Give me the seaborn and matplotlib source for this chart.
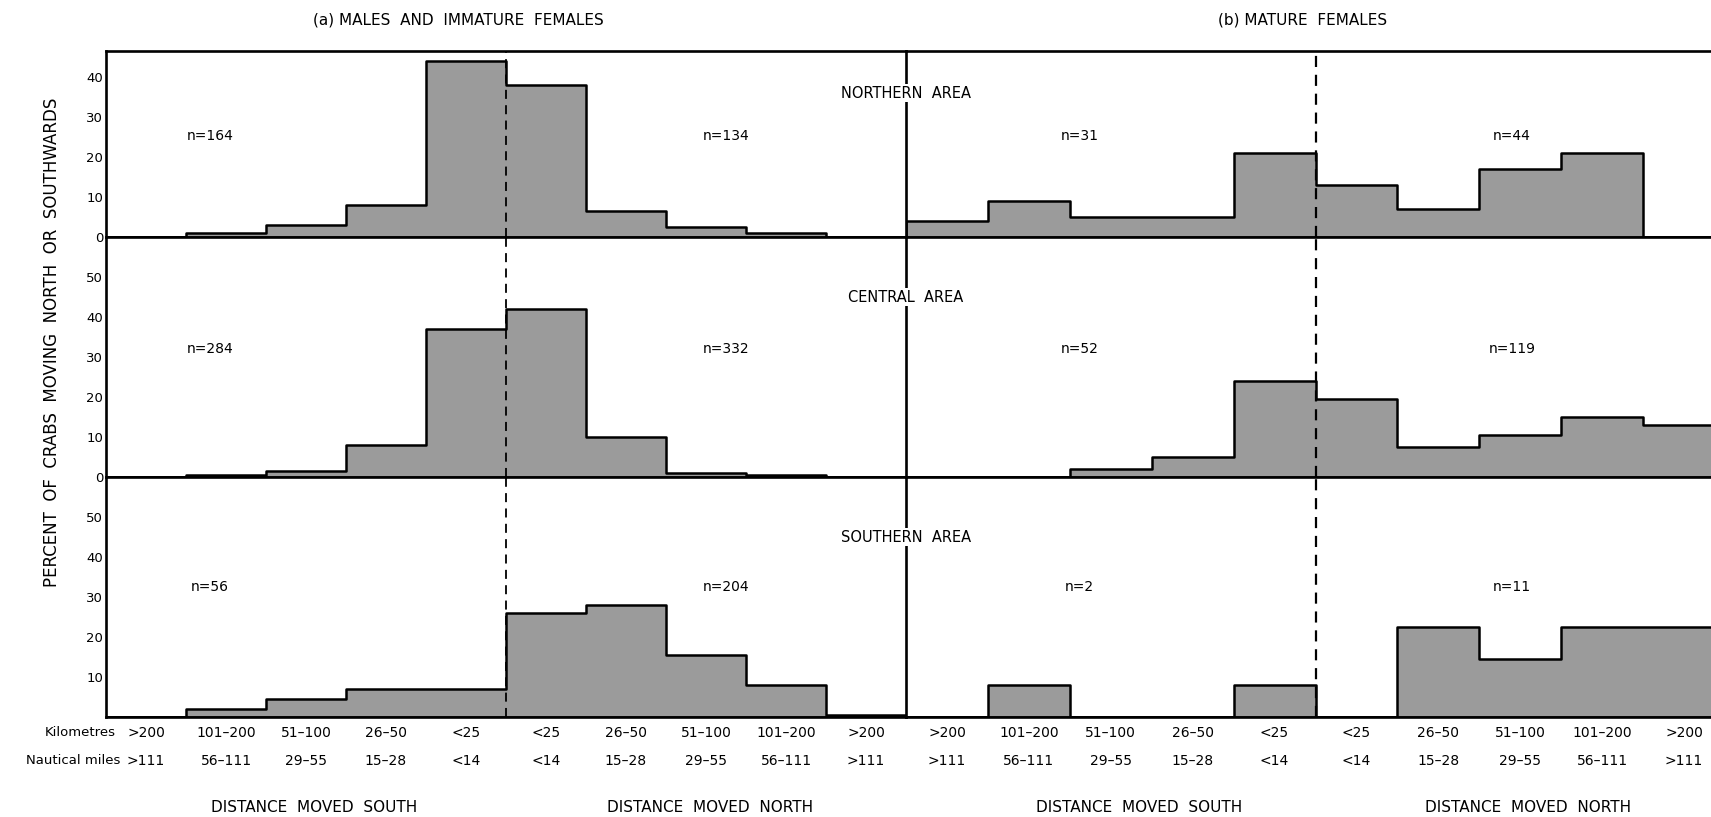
import numpy as np
import pandas as pd
import matplotlib
matplotlib.use("Agg")
import matplotlib.pyplot as plt
import matplotlib.transforms as mtransforms
import seaborn as sns

# ---------------- data ----------------
km_labels = [">200", "101–200", "51–100", "26–50", "<25",
             "<25", "26–50", "51–100", "101–200", ">200"]
nm_labels = [">111", "56–111", "29–55", "15–28", "<14",
             "<14", "15–28", "29–55", "56–111", ">111"]
area_names = ["NORTHERN  AREA", "CENTRAL  AREA", "SOUTHERN  AREA"]

# (a) males and immature females, percent per distance class (south ... north)
males_northern = [0, 1, 3, 8, 44, 38, 6.5, 2.5, 1, 0]
males_central = [0, 0.5, 1.5, 8, 37, 42, 10, 1, 0.5, 0]
males_southern = [0, 2, 4.5, 7, 7, 26, 28, 15.5, 8, 0.5]
# (b) mature females
females_northern = [4, 9, 5, 5, 21, 13, 7, 17, 21, 0]
females_central = [0, 0, 2, 5, 24, 19.5, 7.5, 10.5, 15, 13]
females_southern = [0, 8, 0, 0, 8, 0, 22.5, 14.5, 22.5, 22.5]

n_males_south = [164, 284, 56]
n_males_north = [134, 332, 204]
n_females_south = [31, 52, 2]
n_females_north = [44, 119, 11]

panel_titles = ["(a) MALES  AND  IMMATURE  FEMALES", "(b) MATURE  FEMALES"]
y_label = "PERCENT  OF  CRABS  MOVING  NORTH  OR  SOUTHWARDS"

# ---------------- style ----------------
sns.set_style("white")
plt.rcParams["font.family"] = ["DejaVu Sans"]
plt.rcParams["text.color"] = "black"
plt.rcParams["xtick.color"] = "black"
plt.rcParams["ytick.color"] = "black"
plt.rcParams["axes.labelcolor"] = "black"
FILL = "#9b9b9b"
LW = 1.9

W, H = 1711, 817
fig = plt.figure(figsize=(W / 100, H / 100), dpi=100)


def fx(px):
    return px / W


def fy(py):
    return 1 - py / H


rows = [(51, 237, 46.5), (237, 477, 60), (477, 717, 60)]
panels = [(106, 906), (906, 1725)]
panel_data = [
    [males_northern, males_central, males_southern],
    [females_northern, females_central, females_southern],
]
n_south = [n_males_south, n_females_south]
n_north = [n_males_north, n_females_north]
ytick_sets = [[0, 10, 20, 30, 40], [0, 10, 20, 30, 40, 50], [10, 20, 30, 40, 50]]
n_y = [25.3, 32, 32.5]
n_x = [(1.3, 7.75), (2.12, 7.4)]

centers = np.arange(10) + 0.5

for p, (x0, x1) in enumerate(panels):
    for r, (ytop, ybot, ymax) in enumerate(rows):
        ax = fig.add_axes([fx(x0), fy(ybot), (x1 - x0) / W, (ybot - ytop) / H])
        df = pd.DataFrame({"bin": centers, "pct": np.asarray(panel_data[p][r], float)})
        sns.histplot(data=df, x="bin", weights="pct", bins=10, binrange=(0, 10),
                     element="step", fill=True, color=FILL, alpha=1,
                     edgecolor="black", linewidth=1.8, ax=ax)
        ax.set_xlim(0, 10)
        ax.set_ylim(0, ymax)
        ax.set_xlabel("")
        ax.set_ylabel("")
        ax.axvline(5, color="black", lw=1.3 if p == 0 else 1.6,
                   ls=(0, (5, 3.5)))
        ax.set_xticks(np.arange(1, 10))
        ax.set_xticklabels([])
        ax.set_yticks(ytick_sets[r])
        if p == 0:
            ax.set_yticklabels([str(t) for t in ytick_sets[r]], fontsize=9.5)
        else:
            ax.set_yticklabels([])
        ax.tick_params(axis="y", direction="in", length=6, width=1.3, pad=2)
        ax.tick_params(axis="x", direction="in" if r == 2 else "out",
                       length=7, width=1.5)
        for side in ["left", "right", "top", "bottom"]:
            ax.spines[side].set_color("black")
            ax.spines[side].set_linewidth(LW)
        ax.spines["right"].set_visible(False)
        ax.spines["top"].set_visible(r == 0)
        ax.patch.set_alpha(0)
        ax.text(n_x[p][0], n_y[r], f"n={n_south[p][r]}", ha="center",
                va="center", fontsize=10)
        ax.text(n_x[p][1], n_y[r], f"n={n_north[p][r]}", ha="center",
                va="center", fontsize=10)
        if r == 2:
            trans = mtransforms.blended_transform_factory(ax.transData,
                                                          fig.transFigure)
            for i in range(10):
                ax.text(centers[i], fy(733), km_labels[i], transform=trans,
                        ha="center", va="center", fontsize=10)
                ax.text(centers[i], fy(761), nm_labels[i], transform=trans,
                        ha="center", va="center", fontsize=10)
            sx = [2.6, 2.85][p]
            nx = [7.55, 7.6][p]
            ax.text(sx, fy(807), "DISTANCE  MOVED  SOUTH", transform=trans,
                    ha="center", va="center", fontsize=11)
            ax.text(nx, fy(807), "DISTANCE  MOVED  NORTH", transform=trans,
                    ha="center", va="center", fontsize=11)

fig.text(fx(116), fy(733), "Kilometres", ha="right", va="center", fontsize=9.5)
fig.text(fx(120), fy(761), "Nautical miles", ha="right", va="center", fontsize=9.5)
fig.text(fx(458), fy(20), panel_titles[0], ha="center", va="center", fontsize=11)
fig.text(fx(1303), fy(20), panel_titles[1], ha="center", va="center", fontsize=11)
for name, yy in zip(area_names, [93, 297, 537]):
    fig.text(fx(906), fy(yy), name, ha="center", va="center", fontsize=10.5,
             bbox=dict(facecolor="white", edgecolor="none", pad=1))
fig.text(fx(52), fy(342), y_label, rotation=90, ha="center", va="center",
         fontsize=12)

fig.savefig("out.png", dpi=100)
